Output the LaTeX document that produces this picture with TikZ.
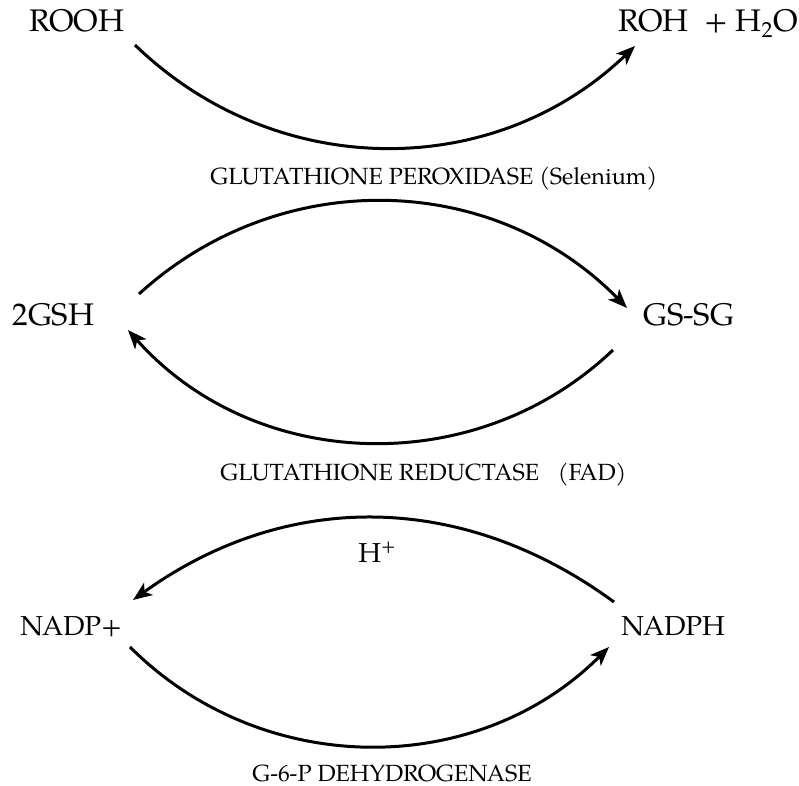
\documentclass[tikz,border=0pt]{standalone}
\usepackage{fontspec}
\setmainfont{TeX Gyre Pagella}
\usetikzlibrary{arrows.meta}
\begin{document}
\begin{tikzpicture}[x=0.5pt, y=0.5pt, species/.style={inner sep=0pt, anchor=base west, font=\fontsize{15.6}{18}\selectfont}, cofactor/.style={species, font=\fontsize{13.7}{16}\selectfont}, enzyme/.style={inner sep=0pt, anchor=base west, font=\fontsize{11.7}{14}\selectfont}, rxn/.style={line width=1.5pt, -{Stealth[length=9.5pt, width=7.5pt, inset=2.5pt]}}]
\useasboundingbox (0,0) rectangle (799,786);
\node[species] (rooh) at (29,754) {ROOH};
\node[species] (roh) at (618,754) {ROH~~+ H\textsubscript{2}O};
\node[enzyme] (perox) at (210,601) {GLUTATHIONE PEROXIDASE (Selenium)};
\node[species] (gsh) at (12,460) {2GSH};
\node[species] (gssg) at (643,460) {GS-SG};
\node[enzyme] (reduct) at (220,305) {GLUTATHIONE REDUCTASE\hspace{0.55em} (FAD)};
\node[cofactor] (hplus) at (358,223) {H\textsuperscript{+}};
\node[cofactor] (nadpp) at (20,150) {NADP+};
\node[cofactor] (nadph) at (621,150) {NADPH};
\node[enzyme] (g6pd) at (252,4) {G-6-P DEHYDROGENASE};
\draw[rxn] ([shift={(106,-13)}]rooh.base west) to[bend right=44] ([shift={(17,-14)}]roh.base west);
\draw[rxn] ([shift={(127,32)}]gsh.base west) to[bend left=44] ([shift={(-16,18)}]gssg.base west);
\draw[rxn] ([shift={(-30,-24)}]gssg.base west) to[bend left=46] ([shift={(116,-4)}]gsh.base west);
\draw[rxn] ([shift={(-7,34)}]nadph.base west) to[bend right=36] ([shift={(113,36)}]nadpp.base west);
\draw[rxn] ([shift={(110,-11)}]nadpp.base west) to[bend right=45] ([shift={(-12,-11)}]nadph.base west);
\end{tikzpicture}
\end{document}
